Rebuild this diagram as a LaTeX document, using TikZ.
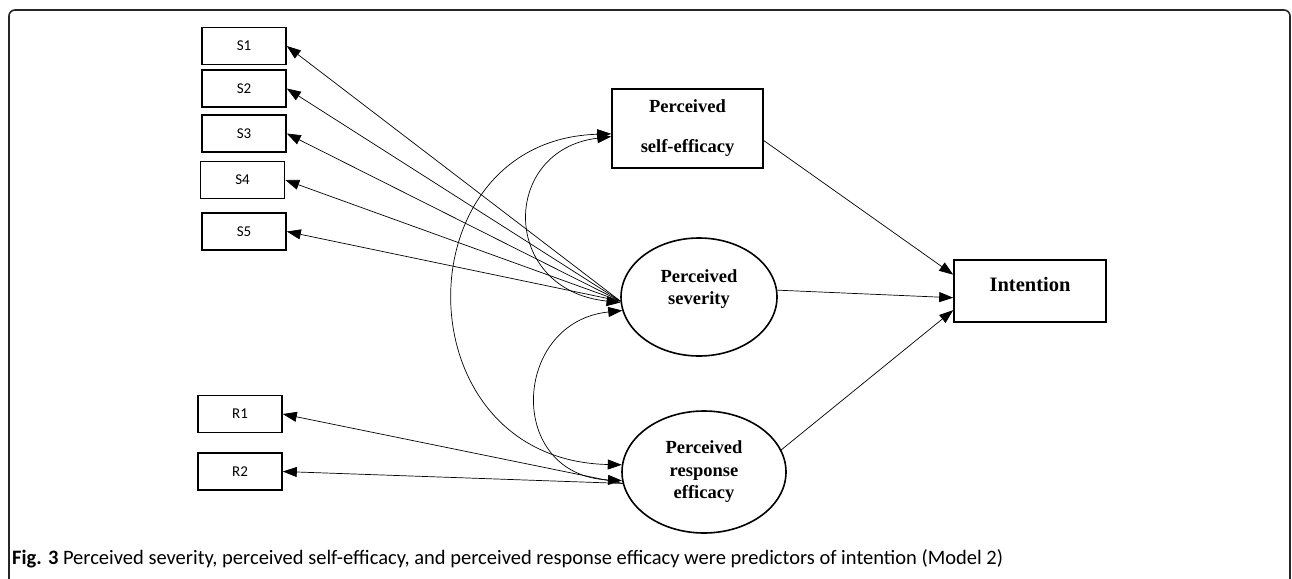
\documentclass[tikz,border=0pt]{standalone}
\usepackage{fontspec}
\setmainfont{Liberation Serif}
\newfontfamily\itemfont{Carlito}
\newfontfamily\capfont{Carlito}
\usetikzlibrary{arrows.meta,shapes.geometric}

\tikzset{
 >={Triangle[length=14pt,width=10pt]},
 indicator/.style={draw, line width=1.6pt, minimum width=84pt, minimum height=37pt,
   inner sep=0pt, font=\itemfont\fontsize{15}{18}\selectfont},
 construct/.style={draw, ellipse, line width=1.6pt, inner sep=0pt, align=center,
   font=\bfseries\fontsize{18.5}{22.5}\selectfont},
 outcome/.style={draw, line width=1.6pt, inner sep=0pt, align=center},
 effect/.style={line width=0.7pt},
}

\begin{document}
\begin{tikzpicture}[x=1pt,y=-1pt]
 \useasboundingbox (0,0) rectangle (1292,578);
 % frame
 \draw[line width=1.6pt, black!85, rounded corners=6pt] (9,590) -- (9,10) -- (1290,10) -- (1290,590);

 % observed items
 \node[indicator] (s1) at (244,46) {S1};
 \node[indicator] (s2) at (244,88.5) {S2};
 \node[indicator] (s3) at (244,133.5) {S3};
 \node[indicator] (s4) at (242.5,180) {S4};
 \node[indicator] (s5) at (244,231.5) {S5};
 \node[indicator] (r1) at (240,414) {R1};
 \node[indicator] (r2) at (240,471.5) {R2};

 % predictors and outcome
 \node[outcome, minimum width=151pt, minimum height=79pt, font=\bfseries\fontsize{18.5}{40}\selectfont] (self) at (687.5,128.5) {Perceived\\self-efficacy};
 \node[construct, minimum width=156pt, minimum height=118pt] (sev) at (699,297) {};
 \node[font=\bfseries\fontsize{18.5}{22.5}\selectfont, align=center] (sevtext) at (699,289) {Perceived\\severity};
 \node[construct, minimum width=164pt, minimum height=122pt] (resp) at (704,472) {Perceived\\response\\efficacy};
 \node[outcome, minimum width=152pt, minimum height=62pt, text height=16pt, text depth=16pt, font=\bfseries\fontsize{20.5}{24}\selectfont] (int) at (1030,291) {Intention};

 % loadings
 \foreach \i in {1,...,5}
   \draw[effect,->] (sev.183) -- (s\i.east);
 \draw[effect,->] (resp.188) -- (r1.east);
 \draw[effect,->] (resp.188) -- (r2.east);

 % paths to intention
 \draw[effect,->] (self.-9) -- (int.168);
 \draw[effect,->] (sev.5) -- (int.185);
 \draw[effect,->] (resp.16) -- (int.194);

 % covariances
 \draw[effect,<->] (self.186) .. controls (500,150) and (500,290) .. (sev.184);
 \draw[effect,<->] (self.184) .. controls (400,140) and (400,460) .. (resp.175);
 \draw[effect,<->] (sev.190) .. controls (512,322) and (505,475) .. (resp.186);

 \node[anchor=base west, inner sep=0pt, font=\capfont\fontsize{20.5}{24}\selectfont] (caption) at (12,564)
   {\textbf{Fig. 3} Perceived severity, perceived self-efficacy, and perceived response efficacy were predictors of intention (Model 2)};
\end{tikzpicture}
\end{document}
